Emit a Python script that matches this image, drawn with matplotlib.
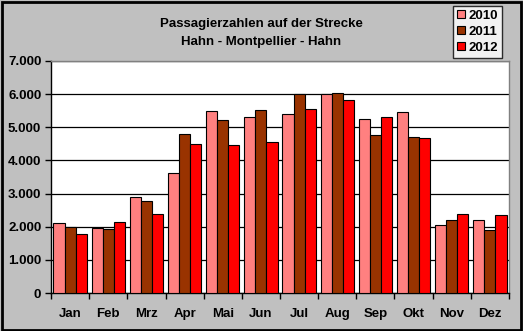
import matplotlib
matplotlib.use("Agg")
import matplotlib.pyplot as plt
import numpy as np

# Monthly passenger numbers
months = ["Jan", "Feb", "Mrz", "Apr", "Mai", "Jun", "Jul", "Aug", "Sep", "Okt", "Nov", "Dez"]
pax_2010 = [2115, 1965, 2900, 3625, 5500, 5315, 5400, 6000, 5245, 5455, 2050, 2200]
pax_2011 = [1995, 1935, 2780, 4805, 5225, 5530, 6000, 6030, 4765, 4705, 2200, 1900]
pax_2012 = [1780, 2145, 2385, 4500, 4470, 4560, 5550, 5820, 5305, 4675, 2380, 2350]
years = ["2010", "2011", "2012"]
colors = ["#FF8080", "#993300", "#FF0000"]

plt.rcParams["font.family"] = ["Liberation Sans", "DejaVu Sans"]
plt.rcParams["font.weight"] = "bold"
FS = 9.5

fig = plt.figure(figsize=(5.23, 3.31), dpi=100, facecolor="#C0C0C0")
ax = fig.add_axes([51 / 523, 38 / 331, 458 / 523, 232 / 331])
ax.set_facecolor("white")

x = np.arange(len(months))
w = 0.29
for k, vals in enumerate([pax_2010, pax_2011, pax_2012]):
    ax.bar(x + (k - 1) * w, vals, width=w, color=colors[k], edgecolor="black",
           linewidth=0.8, label=years[k], zorder=3)

ax.set_xlim(-0.5, 11.5)
ax.set_ylim(0, 7000)
ax.set_yticks(range(0, 7001, 1000))
ax.set_yticklabels(["0" if v == 0 else f"{v // 1000}.000" for v in range(0, 7001, 1000)],
                   fontsize=FS, fontweight="bold")
ax.yaxis.grid(True, color="black", linewidth=0.9, zorder=1)

# month names in the middle, tick marks on category borders
ax.set_xticks(x)
ax.set_xticklabels(months, fontsize=FS, fontweight="bold")
ax.tick_params(axis="x", length=0, pad=11)
ax.set_xticks(np.arange(-0.5, 12, 1), minor=True)
ax.tick_params(axis="x", which="minor", length=4, width=1, direction="out")
ax.tick_params(axis="y", length=4, width=1, direction="out", pad=3)

for s in ["top", "right"]:
    ax.spines[s].set_color("#808080")
    ax.spines[s].set_linewidth(1)
for s in ["left", "bottom"]:
    ax.spines[s].set_color("black")
    ax.spines[s].set_linewidth(1)

fig.text(0.5, 1 - 24 / 331, "Passagierzahlen auf der Strecke", ha="center", va="center",
         fontsize=FS, fontweight="bold")
fig.text(0.5, 1 - 42 / 331, "Hahn - Montpellier - Hahn", ha="center", va="center",
         fontsize=FS, fontweight="bold")

leg = fig.legend(loc="upper left", bbox_to_anchor=(453 / 523, 1 - 6 / 331), fontsize=FS,
                 frameon=True, fancybox=False, edgecolor="black", facecolor="white",
                 handlelength=0.6, handleheight=0.6, handletextpad=0.3, borderpad=0.3,
                 labelspacing=0.3, borderaxespad=0)
leg.get_frame().set_linewidth(1)

# outer black frame of the chart
fig.patches.append(plt.Rectangle((0.003, 0.004), 0.993, 0.991, transform=fig.transFigure,
                                 fill=False, edgecolor="black", linewidth=2))

fig.savefig("out.png", dpi=100, facecolor=fig.get_facecolor())
